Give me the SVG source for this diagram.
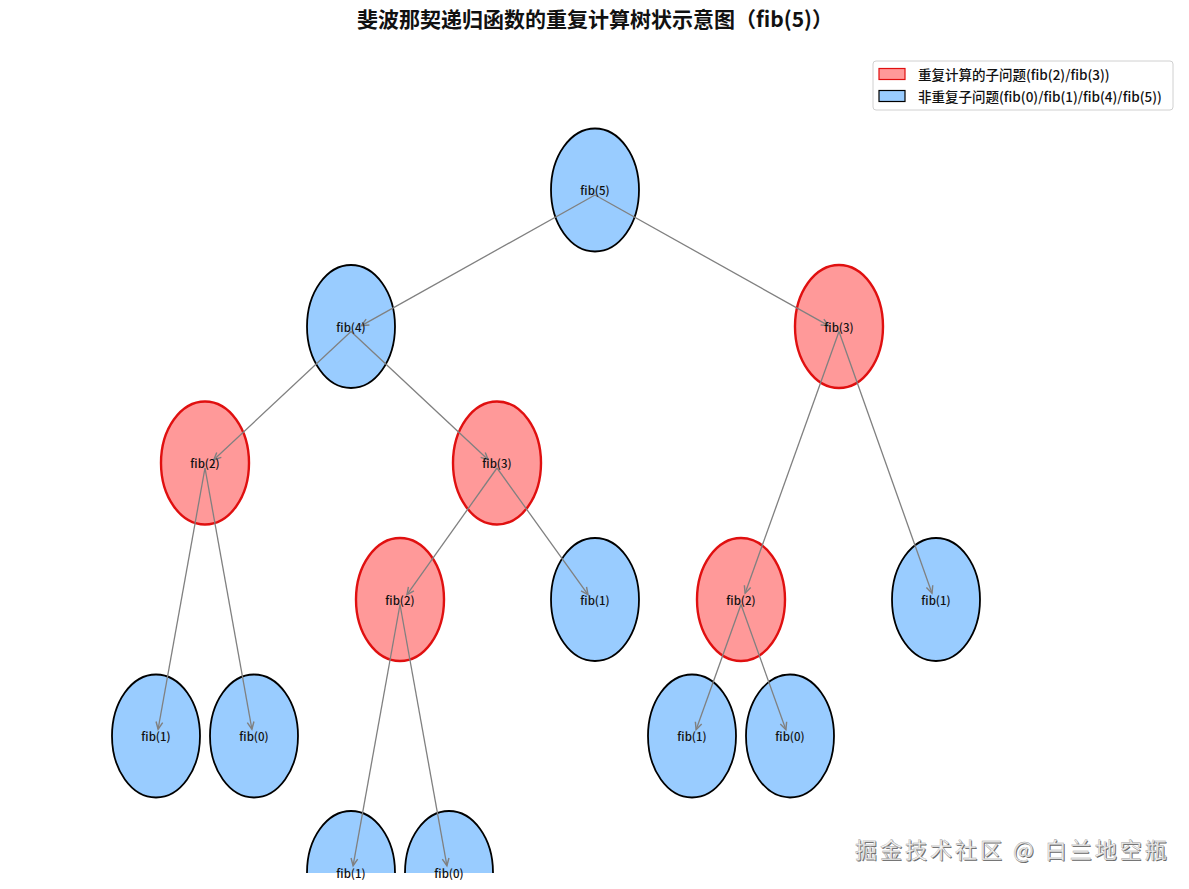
<svg xmlns="http://www.w3.org/2000/svg" width="1189" height="889" viewBox="0 0 1189 889">
<style>
.t{font-family:"Noto Sans CJK SC","Noto Sans",sans-serif;}
.title{font-size:21px;font-weight:600;fill:#111;}
.lbl{font-size:11.5px;font-weight:500;fill:#111;text-anchor:middle;dominant-baseline:central;}
.leg{font-size:13.5px;font-weight:500;fill:#111;}
.blue{fill:#99ccff;stroke:#000;stroke-width:1.8;}
.red{fill:#ff9999;stroke:#e01010;stroke-width:2.4;}
.edge{stroke:#808080;stroke-width:1.3;fill:none;marker-end:url(#arr);}
.wm{font-size:22px;font-weight:400;letter-spacing:3px;}
</style>
<defs>
<marker id="arr" markerUnits="userSpaceOnUse" markerWidth="12" markerHeight="12" refX="0" refY="0" viewBox="-8 -5 10 10" orient="auto">
<path d="M-6,-2.8 L0,0 L-6,2.8" fill="none" stroke="#808080" stroke-width="1.2"/>
</marker>
<clipPath id="ax"><rect x="0" y="0" width="1189" height="873"/></clipPath>
</defs>
<rect width="1189" height="889" fill="#fff"/>
<text class="t title" x="595" y="27" text-anchor="middle">斐波那契递归函数的重复计算树状示意图（fib(5)）</text>
<g id="legend">
<rect x="873" y="61" width="300" height="49" rx="3" fill="#fff" stroke="#d0d0d0"/>
<rect x="879" y="68.5" width="26" height="11" fill="#ff9999" stroke="#e01010" stroke-width="1.2"/>
<rect x="879" y="90.5" width="26" height="11" fill="#99ccff" stroke="#000" stroke-width="1.2"/>
<text class="t leg" x="918" y="79.5">重复计算的子问题(fib(2)/fib(3))</text>
<text class="t leg" x="918" y="101.5">非重复子问题(fib(0)/fib(1)/fib(4)/fib(5))</text>
</g>
<g clip-path="url(#ax)">
<g id="n-fib5"><ellipse class="blue" cx="595" cy="190" rx="44" ry="61.5"/></g>
<g id="n-fib4"><ellipse class="blue" cx="351" cy="326.5" rx="44" ry="61.5"/></g>
<g id="n-fib3a"><ellipse class="red" cx="839" cy="326.5" rx="44" ry="61.5"/></g>
<g id="n-fib2a"><ellipse class="red" cx="205" cy="463" rx="44" ry="61.5"/></g>
<g id="n-fib3b"><ellipse class="red" cx="497" cy="463" rx="44" ry="61.5"/></g>
<g id="n-fib2b"><ellipse class="red" cx="400" cy="599.5" rx="44" ry="61.5"/></g>
<g id="n-fib1a"><ellipse class="blue" cx="595" cy="599.5" rx="44" ry="61.5"/></g>
<g id="n-fib2c"><ellipse class="red" cx="741" cy="599.5" rx="44" ry="61.5"/></g>
<g id="n-fib1b"><ellipse class="blue" cx="936" cy="599.5" rx="44" ry="61.5"/></g>
<g id="n-fib1c"><ellipse class="blue" cx="156" cy="736" rx="44" ry="61.5"/></g>
<g id="n-fib0a"><ellipse class="blue" cx="254" cy="736" rx="44" ry="61.5"/></g>
<g id="n-fib1d"><ellipse class="blue" cx="692" cy="736" rx="44" ry="61.5"/></g>
<g id="n-fib0b"><ellipse class="blue" cx="790" cy="736" rx="44" ry="61.5"/></g>
<g id="n-fib1e"><ellipse class="blue" cx="351" cy="872.5" rx="44" ry="61.5"/></g>
<g id="n-fib0c"><ellipse class="blue" cx="449" cy="872.5" rx="44" ry="61.5"/></g>
</g>
<g id="connectors">
<line class="edge" x1="595" y1="195" x2="361.5" y2="325.6"/>
<line class="edge" x1="595" y1="195" x2="828.5" y2="325.6"/>
<line class="edge" x1="351" y1="331.5" x2="213.8" y2="459.8"/>
<line class="edge" x1="351" y1="331.5" x2="488.2" y2="459.8"/>
<line class="edge" x1="839" y1="331.5" x2="745.1" y2="593.2"/>
<line class="edge" x1="839" y1="331.5" x2="932" y2="593.2"/>
<line class="edge" x1="205" y1="468" x2="158.1" y2="729.2"/>
<line class="edge" x1="205" y1="468" x2="251.9" y2="729.2"/>
<line class="edge" x1="497" y1="468" x2="407" y2="594.7"/>
<line class="edge" x1="497" y1="468" x2="588" y2="594.7"/>
<line class="edge" x1="400" y1="604.5" x2="353.1" y2="865.7"/>
<line class="edge" x1="400" y1="604.5" x2="446.9" y2="865.7"/>
<line class="edge" x1="741" y1="604.5" x2="696.1" y2="729.7"/>
<line class="edge" x1="741" y1="604.5" x2="785.9" y2="729.7"/>
</g>
<g id="labels">
<text class="t lbl" x="595" y="190">fib(5)</text>
<text class="t lbl" x="351" y="326.5">fib(4)</text>
<text class="t lbl" x="839" y="326.5">fib(3)</text>
<text class="t lbl" x="205" y="463">fib(2)</text>
<text class="t lbl" x="497" y="463">fib(3)</text>
<text class="t lbl" x="400" y="599.5">fib(2)</text>
<text class="t lbl" x="595" y="599.5">fib(1)</text>
<text class="t lbl" x="741" y="599.5">fib(2)</text>
<text class="t lbl" x="936" y="599.5">fib(1)</text>
<text class="t lbl" x="156" y="736">fib(1)</text>
<text class="t lbl" x="254" y="736">fib(0)</text>
<text class="t lbl" x="692" y="736">fib(1)</text>
<text class="t lbl" x="790" y="736">fib(0)</text>
<text class="t lbl" x="351" y="872.5">fib(1)</text>
<text class="t lbl" x="449" y="872.5">fib(0)</text>
</g>
<g id="watermark">
<text class="t wm" x="856" y="859" fill="#666">掘金技术社区 @ 白兰地空瓶</text>
<text class="t wm" x="855" y="858" fill="#f4f4f4" stroke="#a0a0a0" stroke-width="0.4">掘金技术社区 @ 白兰地空瓶</text>
</g>
</svg>
